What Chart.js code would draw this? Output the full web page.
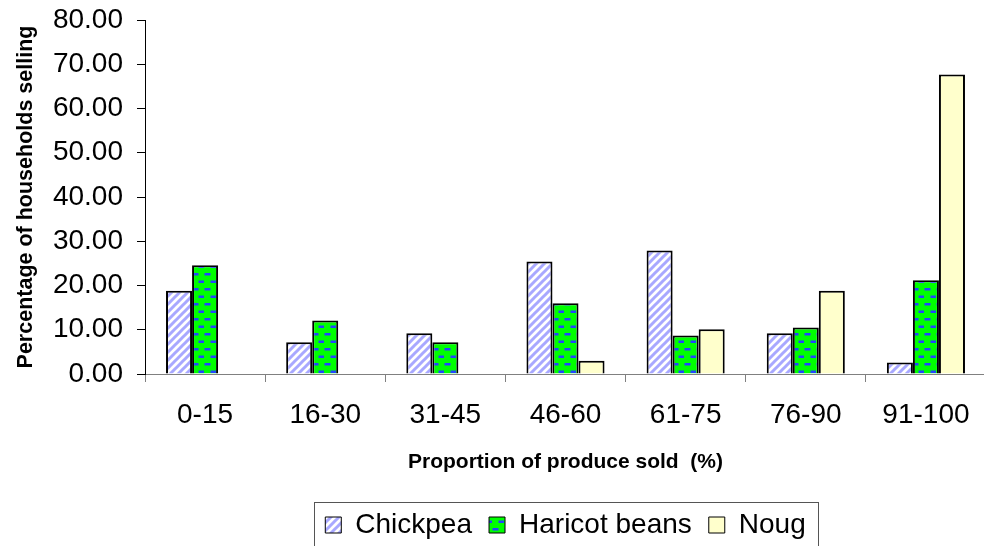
<!DOCTYPE html>
<html>
<head>
<meta charset="utf-8">
<style>
  html, body { margin: 0; padding: 0; background: #fff; overflow: hidden; }
  #chart { display: block; }
</style>
<script src="https://cdn.jsdelivr.net/npm/chart.js@4.4.1/dist/chart.umd.min.js"></script>
</head>
<body>
<canvas id="chart" width="988" height="546"></canvas>
<script>
// proportion of produce sold, in bands
const categories = ["0-15", "16-30", "31-45", "46-60", "61-75", "76-90", "91-100"];
const chickpea = [18.8, 7.2, 9.2, 25.4, 27.9, 9.2, 2.6];
const haricotBeans = [24.6, 12.1, 7.2, 16.0, 8.7, 10.5, 21.2];
const noug = [null, null, null, 3.0, 10.1, 18.8, 67.7];
const yTicks = [0, 10, 20, 30, 40, 50, 60, 70, 80];

const FONT = "'Liberation Sans', Arial, sans-serif";
const BOTTOM_PAD = -3;
const LEGEND_FONT = 28;
const LEGEND_PAD = 17;

function makeTile(w, h, draw) {
  const c = document.createElement("canvas");
  c.width = w;
  c.height = h;
  draw(c.getContext("2d"));
  return c.getContext("2d").createPattern(c, "repeat");
}

// white with light blue diagonal stripes
const stripePattern = makeTile(8, 8, (g) => {
  g.fillStyle = "#ffffff";
  g.fillRect(0, 0, 8, 8);
  g.strokeStyle = "#a8a8ff";
  g.lineWidth = 3;
  g.beginPath();
  g.moveTo(-2, 10); g.lineTo(10, -2);
  g.moveTo(-6, 6); g.lineTo(6, -6);
  g.moveTo(2, 14); g.lineTo(14, 2);
  g.stroke();
});

// green with blue dashes
const dashPattern = makeTile(12, 15, (g) => {
  g.fillStyle = "#00ff00";
  g.fillRect(0, 0, 12, 15);
  g.fillStyle = "#2244ff";
  g.fillRect(0.5, 3, 6, 2.5);
  g.fillRect(6.5, 10.5, 6, 2.5);
});

const chart = new Chart(document.getElementById("chart"), {
  type: "bar",
  data: {
    labels: categories,
    datasets: [
      { label: "Chickpea", data: chickpea, backgroundColor: stripePattern },
      { label: "Haricot beans", data: haricotBeans, backgroundColor: dashPattern },
      { label: "Noug", data: noug, backgroundColor: "#ffffcc" },
    ],
  },
  options: {
    responsive: false,
    animation: false,
    layout: { padding: { top: 20, right: 2, left: 0, bottom: BOTTOM_PAD } },
    datasets: {
      bar: {
        borderColor: "#000",
        borderWidth: 2,
        categoryPercentage: 0.65,
        barPercentage: 1,
      },
    },
    plugins: {
      tooltip: { enabled: false },
      legend: {
        position: "bottom",
        fullSize: false,
        labels: {
          color: "#000",
          font: { family: FONT, size: LEGEND_FONT },
          boxWidth: 16,
          boxHeight: 16,
          padding: LEGEND_PAD,
          generateLabels: (c) =>
            Chart.defaults.plugins.legend.labels.generateLabels(c).map((l) => ({ ...l, lineWidth: 1 })),
        },
      },
    },
    scales: {
      x: {
        afterFit: (s) => {
          const lh = (s.chart.legend && s.chart.legend.height) || (LEGEND_FONT + LEGEND_PAD + 10);
          s.height = 546 - BOTTOM_PAD - 374 - lh;
        },
        grid: { display: true, drawOnChartArea: false, offset: true, tickLength: 8, color: "#808080" },
        border: { color: "#808080", width: 1 },
        ticks: { color: "#000", font: { family: FONT, size: 28 }, padding: 16, maxRotation: 0 },
        title: {
          display: true,
          text: "Proportion of produce sold  (%)",
          color: "#000",
          font: { family: FONT, size: 21, weight: "bold" },
          padding: { top: 4, bottom: 19 },
        },
      },
      y: {
        min: 0,
        max: 80,
        afterFit: (s) => {
          s.width = 145;
          s.paddingTop = 0;
          s.paddingBottom = 0;
        },
        afterBuildTicks: (s) => { s.ticks = yTicks.map((v) => ({ value: v })); },
        grid: { display: true, drawOnChartArea: false, tickLength: 8, color: "#000" },
        border: { color: "#000", width: 1 },
        ticks: {
          color: "#000",
          font: { family: FONT, size: 28 },
          padding: 14,
          callback: (v) => Number(v).toFixed(2),
        },
        title: {
          display: true,
          text: "Percentage of households selling",
          color: "#000",
          font: { family: FONT, size: 21.5, weight: "bold" },
          padding: { top: 13, bottom: 0 },
        },
      },
    },
  },
  plugins: [
    {
      id: "legendFrame",
      afterDraw(c) {
        const lg = c.legend;
        if (!lg || !lg.legendHitBoxes.length) return;
        const hb = lg.legendHitBoxes;
        const last = hb[hb.length - 1];
        const left = hb[0].left - 11;
        const right = last.left + last.width + 13;
        const top = hb[0].top - 9;
        const g = c.ctx;
        g.save();
        g.strokeStyle = "#555";
        g.lineWidth = 1;
        g.strokeRect(Math.round(left) + 0.5, Math.round(top) + 0.5, Math.round(right - left), 60);
        g.restore();
      },
    },
  ],
});
</script>
</body>
</html>
